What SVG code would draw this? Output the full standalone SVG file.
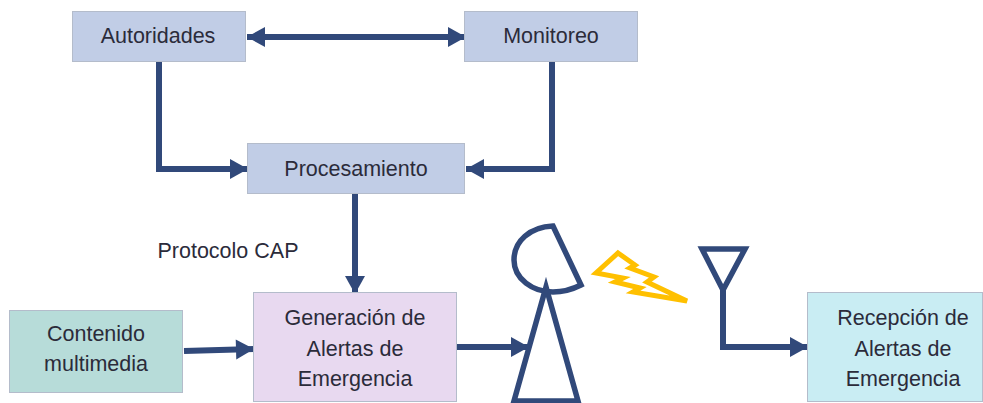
<svg xmlns="http://www.w3.org/2000/svg" width="983" height="403" viewBox="0 0 983 403">
<style>
text{font-family:"Liberation Sans",Arial,sans-serif;font-size:21.500px;fill:#2b2b3a;text-anchor:middle}
.b{stroke:#b4bccb;stroke-width:1}
.c{fill:none;stroke:#31497a;stroke-width:6}
.s{fill:none;stroke:#31497a;stroke-width:5.500}
</style>
<defs>
<marker id="a" markerUnits="userSpaceOnUse" markerWidth="22" markerHeight="22" refX="19" refY="11" orient="auto-start-reverse"><path d="M1 1L19 11L1 21Z" fill="#31497a"/></marker>
</defs>
<rect width="983" height="403" fill="#fff"/>
<g id="connectors">
<path class="c" d="M247 37H466" marker-start="url(#a)" marker-end="url(#a)"/>
<path class="c" d="M159 62V169H248" marker-end="url(#a)"/>
<path class="c" d="M552 62V169H466" marker-end="url(#a)"/>
<path class="c" d="M355 194V294" marker-end="url(#a)"/>
<path class="c" d="M184 351L254 349" marker-end="url(#a)"/>
<path class="c" d="M457 347H529" marker-end="url(#a)"/>
<path class="c" d="M723 290V347H808" marker-end="url(#a)"/>
</g>
<g id="autoridades"><rect class="b" x="72.500" y="11.500" width="173" height="50" fill="#c1cde6"/><text x="158" y="43">Autoridades</text></g>
<g id="monitoreo"><rect class="b" x="464.500" y="11.500" width="173" height="50" fill="#c1cde6"/><text x="551" y="43">Monitoreo</text></g>
<g id="procesamiento"><rect class="b" x="247.500" y="143.500" width="217" height="50" fill="#c1cde6"/><text x="356" y="176">Procesamiento</text></g>
<g id="protocolo"><text x="228" y="258">Protocolo CAP</text></g>
<g id="contenido"><rect class="b" x="9.500" y="310.500" width="173" height="82" fill="#b7dcd9"/><text x="96" y="341">Contenido</text><text x="96" y="371">multimedia</text></g>
<g id="generacion"><rect class="b" x="253.500" y="292.500" width="203" height="109" fill="#e8d9f0"/><text x="355" y="325">Generación de</text><text x="355" y="356">Alertas de</text><text x="355" y="386">Emergencia</text></g>
<g id="recepcion"><rect class="b" x="807.500" y="292.500" width="175" height="109" fill="#c9edf3"/><text x="903" y="325">Recepción de</text><text x="903" y="356">Alertas de</text><text x="903" y="386">Emergencia</text></g>
<g id="transmisor">
<path class="s" d="M553 226C530 227 514 241 514 260C514 279 533 292 553 292C564 292 573 289 581 285Z"/>
<path class="s" stroke-linejoin="miter" d="M546 287L514 401H578Z"/>
</g>
<g id="rayo"><path fill="#fff" stroke="#ffc000" stroke-width="5" d="M618 253L635 265L630 268L654 277L647 282L687 301L633 292L640 288L615 282L623 278L596 273Z"/></g>
<g id="antena"><path class="s" d="M702 249H745L723 290Z"/></g>
</svg>
